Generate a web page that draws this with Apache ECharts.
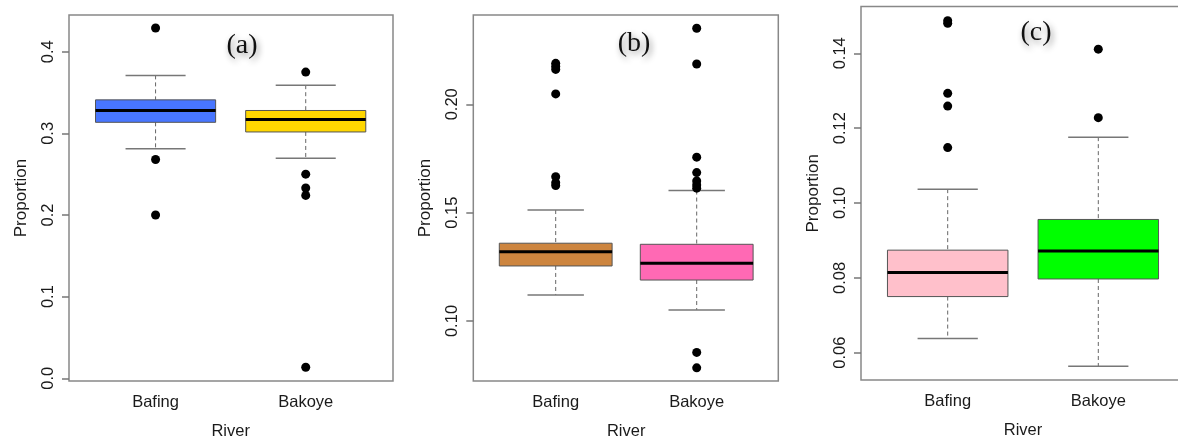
<!DOCTYPE html>
<html lang="en">
<head>
<meta charset="UTF-8">
<title>Proportion by river</title>
<script src="https://cdn.jsdelivr.net/npm/echarts@6/dist/echarts.min.js"></script>
<style>
    html, body { margin: 0; padding: 0; background: #fff; }
    #chart { width: 1178px; height: 439px; }
</style>
</head>
<body>
<div id="chart"></div>
<script>
    // categories
    var rivers = ['Bafing', 'Bakoye'];

    // box stats per river: [lower whisker, Q1, median, Q3, upper whisker]
    var statsA = [[0.281, 0.3135, 0.328, 0.341, 0.371], [0.2695, 0.3017, 0.317, 0.328, 0.359]];
    var statsB = [[0.112, 0.1254, 0.1319, 0.1359, 0.1512], [0.1051, 0.1189, 0.1266, 0.1354, 0.1602]];
    var statsC = [[0.0638, 0.075, 0.0814, 0.0874, 0.1037], [0.0564, 0.0797, 0.0872, 0.0956, 0.1176]];

    // outliers
    var outBafingA = [0.429, 0.268, 0.200];
    var outBakoyeA = [0.375, 0.250, 0.233, 0.224, 0.0135];
    var outBafingB = [0.2189, 0.2175, 0.2161, 0.2048, 0.1666, 0.1638, 0.1625];
    var outBakoyeB = [0.2351, 0.2186, 0.1756, 0.1685, 0.1646, 0.1628, 0.1613, 0.0855, 0.0784];
    var outBafingC = [0.1487, 0.148, 0.1293, 0.1259, 0.1148];
    var outBakoyeC = [0.1411, 0.1228];

    // tick labels
    var ticksA = [0.0, 0.1, 0.2, 0.3, 0.4];
    var ticksB = [0.10, 0.15, 0.20];
    var ticksC = [0.06, 0.08, 0.10, 0.12, 0.14];

    var colorsA = ['#4876FF', '#FFD700'];
    var colorsB = ['#CD853F', '#FF69B4'];
    var colorsC = ['#FFC0CB', '#00FF00'];

    var labels = ['(a)', '(b)', '(c)'];

    // layout of each panel (frame box, data area, title spot)
    var panels = [
        { stats: statsA, outs: [outBafingA, outBakoyeA], ticks: ticksA, dec: 1, colors: colorsA,
          frame: [69, 15, 324, 366], data: [80.5, 51.7, 300.3, 326.6], title: [242, 46] },
        { stats: statsB, outs: [outBafingB, outBakoyeB], ticks: ticksB, dec: 2, colors: colorsB,
          frame: [473.3, 15, 305, 366], data: [485.2, 104.3, 282, 216.7], title: [634, 44] },
        { stats: statsC, outs: [outBafingC, outBakoyeC], ticks: ticksC, dec: 2, colors: colorsC,
          frame: [861, 6.5, 323, 373.5], data: [872.4, 53.3, 301.2, 299.4], title: [1036, 33] }
    ];

    var textColor = '#1a1a1a';
    var FONT = 'Liberation Sans';

    function makeRender(colors) {
        return function (params, api) {
            var x = api.value(0);
            var lo = api.coord([x, api.value(1)]);
            var q1 = api.coord([x, api.value(2)]);
            var md = api.coord([x, api.value(3)]);
            var q3 = api.coord([x, api.value(4)]);
            var hi = api.coord([x, api.value(5)]);
            var band = api.size([1, 0])[0];
            var bw = band * 0.8, cw = band * 0.4;
            var cx = lo[0];
            var dash = { stroke: '#666', lineWidth: 1, lineDash: [4, 3] };
            var cap = { stroke: '#777', lineWidth: 1.5 };
            return {
                type: 'group',
                children: [
                    { type: 'line', shape: { x1: cx, y1: hi[1], x2: cx, y2: q3[1] }, style: dash },
                    { type: 'line', shape: { x1: cx, y1: q1[1], x2: cx, y2: lo[1] }, style: dash },
                    { type: 'line', shape: { x1: cx - cw / 2, y1: hi[1], x2: cx + cw / 2, y2: hi[1] }, style: cap },
                    { type: 'line', shape: { x1: cx - cw / 2, y1: lo[1], x2: cx + cw / 2, y2: lo[1] }, style: cap },
                    { type: 'rect', shape: { x: cx - bw / 2, y: q3[1], width: bw, height: q1[1] - q3[1] },
                      style: { fill: colors[params.dataIndex], stroke: '#555', lineWidth: 1 } },
                    { type: 'line', shape: { x1: cx - bw / 2, y1: md[1], x2: cx + bw / 2, y2: md[1] },
                      style: { stroke: '#000', lineWidth: 3 } }
                ]
            };
        };
    }

    var option = {
        animation: false,
        backgroundColor: '#fff',
        title: [], grid: [], xAxis: [], yAxis: [], series: []
    };

    panels.forEach(function (p, i) {
        var fg = i * 2, dg = i * 2 + 1;
        var f = p.frame, d = p.data;
        var frameBottom = f[1] + f[3];
        var dataBottom = d[1] + d[3];

        option.title.push({
            text: labels[i],
            left: p.title[0], top: p.title[1],
            padding: 0,
            textAlign: 'center', textVerticalAlign: 'middle',
            textStyle: {
                fontFamily: 'Liberation Serif', fontSize: 28, fontWeight: 'normal', color: '#111',
                textShadowColor: 'rgba(0,0,0,0.45)', textShadowBlur: 6,
                textShadowOffsetX: 2, textShadowOffsetY: 3
            }
        });

        // frame grid (box around the plot)
        option.grid.push({
            left: f[0], top: f[1], width: f[2], height: f[3],
            outerBoundsMode: 'none',
            show: true, borderColor: '#888', borderWidth: 1.5, backgroundColor: 'transparent'
        });
        // data grid
        option.grid.push({ left: d[0], top: d[1], width: d[2], height: d[3], outerBoundsMode: 'none' });

        option.xAxis.push({ gridIndex: fg, type: 'value', show: false });
        option.yAxis.push({
            gridIndex: fg, type: 'value', min: 0, max: 1,
            name: 'Proportion', nameLocation: 'middle', nameGap: 39,
            nameTextStyle: { fontFamily: FONT, fontSize: 17, color: textColor },
            axisLine: { show: false }, axisTick: { show: false },
            axisLabel: { show: false }, splitLine: { show: false }
        });

        option.xAxis.push({
            gridIndex: dg, type: 'category', data: rivers,
            offset: frameBottom - dataBottom,
            name: 'River', nameLocation: 'middle', nameGap: 42,
            nameTextStyle: { fontFamily: FONT, fontSize: 16.5, color: textColor },
            axisLine: { show: false },
            axisTick: { alignWithLabel: true, length: 7, lineStyle: { color: '#777', width: 1.5 } },
            axisLabel: { fontFamily: FONT, fontSize: 16.5, color: textColor, margin: 13 }
        });
        option.yAxis.push({
            gridIndex: dg, type: 'value',
            min: p.ticks[0], max: p.ticks[p.ticks.length - 1],
            interval: p.ticks[1] - p.ticks[0],
            offset: d[0] - f[0],
            axisLine: { show: false },
            axisTick: { show: true, length: 7, lineStyle: { color: '#777', width: 1.5 } },
            splitLine: { show: false },
            axisLabel: {
                rotate: 90, margin: 12, fontFamily: FONT, fontSize: 16.5, color: textColor,
                formatter: function (v) { return v.toFixed(p.dec); }
            }
        });

        var boxData = p.stats.map(function (s, k) { return [k].concat(s); });
        option.series.push({
            type: 'custom', xAxisIndex: i * 2 + 1, yAxisIndex: i * 2 + 1,
            renderItem: makeRender(p.colors), clip: false,
            encode: { x: 0, y: [1, 2, 3, 4, 5] },
            data: boxData
        });

        var pts = [];
        p.outs.forEach(function (arr, k) {
            arr.forEach(function (v) { pts.push([k, v]); });
        });
        option.series.push({
            type: 'scatter', xAxisIndex: i * 2 + 1, yAxisIndex: i * 2 + 1,
            clip: false, symbolSize: 9, itemStyle: { color: '#000', opacity: 1 },
            data: pts
        });
    });

    var myChart = echarts.init(document.getElementById('chart'));
    myChart.setOption(option);
</script>
</body>
</html>
